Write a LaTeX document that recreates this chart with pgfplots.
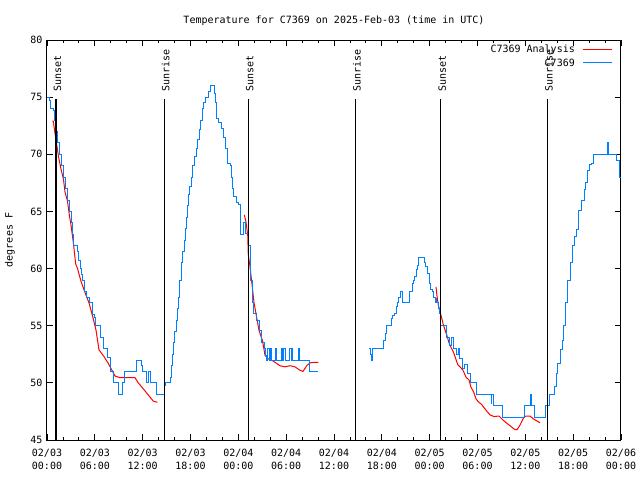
\documentclass[border=0pt]{standalone}
\usepackage{fontspec}
\setmainfont{DejaVu Sans Mono}
\usepackage{pgfplots}
\pgfplotsset{compat=1.18}
\definecolor{obsblue}{RGB}{0,128,255}
\definecolor{anared}{RGB}{255,0,0}

\pgfplotstableread{
h T
0.66 72.9
0.79 72.9
1.13 71.2
1.32 70.4
1.44 69.8
1.76 68.7
2.07 67.8
2.26 66.7
2.57 65.9
2.82 64.6
3.01 63.8
3.30 62.3
3.60 60.4
3.83 60.0
4.26 58.9
4.77 57.9
5.27 57.0
5.77 55.7
6.15 54.6
6.52 52.9
7.15 52.3
7.69 51.7
8.53 50.6
9.16 50.45
11.04 50.45
11.45 50.0
12.29 49.3
13.33 48.4
13.84 48.3
nan nan
24.75 64.7
24.96 64.1
25.18 62.9
25.25 61.2
25.46 60.2
25.72 58.6
25.97 57.0
26.31 55.7
26.59 54.6
27.03 53.7
27.35 52.4
27.76 52.1
28.39 51.9
29.23 51.5
29.86 51.4
30.48 51.5
31.11 51.4
31.74 51.1
32.11 51.0
32.58 51.5
32.99 51.75
33.62 51.8
34.03 51.8
nan nan
48.80 58.4
48.92 57.6
49.09 56.8
49.42 55.9
49.71 55.1
50.14 54.2
50.43 53.5
50.68 53.1
50.97 52.7
51.18 52.3
51.52 51.6
51.81 51.4
52.18 51.1
52.56 50.5
52.94 50.25
53.19 49.6
53.52 49.2
53.81 48.6
54.10 48.35
54.53 48.1
54.85 47.8
55.19 47.5
55.57 47.2
56.07 47.05
56.70 47.1
57.20 46.75
57.70 46.45
58.08 46.25
58.71 45.9
58.96 45.9
59.33 46.3
59.83 47.0
60.09 47.1
60.59 47.1
61.00 46.85
61.63 46.6
61.84 46.5
}\analysis

\pgfplotstableread{
h T
0 75
0.3 74.7
0.45 74
0.8 73.8
0.95 73
1.1 72
1.3 71
1.55 70
1.8 69
2.1 68
2.35 67
2.6 66
2.8 65
3.05 64
3.2 63
3.3 62
3.8 61.5
4.0 60.7
4.2 60
4.35 59.5
4.5 59
4.75 58
5.0 57.5
5.3 57
5.7 56
5.9 55.7
6.1 55
6.65 54
7.06 53
7.53 52.2
7.99 51
8.32 50
8.94 49
9.45 50
9.75 51
11.25 52
11.88 51.5
12.04 51
12.5 50
12.71 51
12.92 50
13.76 49
14.68 49.8
14.9 50
15.43 50.5
15.6 51.5
15.75 52.5
15.9 53.5
16.05 54.5
16.2 55.5
16.35 56.5
16.5 57.5
16.65 59
16.85 60.5
17.05 61.5
17.25 62.5
17.4 63.5
17.5 64.5
17.6 65.5
17.72 66.5
17.9 67.2
18.1 68
18.3 69
18.5 69.8
18.7 70.5
18.9 71.3
19.1 72.2
19.3 73
19.45 74
19.65 74.5
19.9 75
20.2 75.5
20.45 76
20.95 75.3
21.16 74.5
21.3 73.1
21.55 72.8
21.85 72.3
22.15 71.5
22.4 70.5
22.6 69.2
23.0 69
23.15 68
23.3 67
23.4 66.3
23.71 65.8
24.0 65.6
24.21 63
24.71 64
24.96 63.1
25.25 62
25.55 59
25.75 58
25.8 57
25.96 56.1
26.34 55.5
26.63 54.6
26.93 53.5
27.22 53
27.43 52.4
27.56 52
27.7 53
27.9 52
28.05 53
28.15 52
28.6 53
28.85 52
29.45 53
29.6 52
29.7 53
29.9 52
30.45 53
30.65 52
30.75 53
30.85 52
31.55 53
31.7 52
32.98 51
34.0 51
nan nan
40.43 53
40.58 52.5
40.68 52
40.81 53
42.19 53.75
42.49 54.3
42.61 55
43.24 55.6
43.36 55.9
43.57 56.1
43.78 56.7
43.94 57
44.15 57.5
44.37 58
44.59 57
45.41 58
45.82 58.7
45.95 59
46.16 59.3
46.29 59.9
46.45 60.3
46.66 61
47.29 60.5
47.50 60.2
47.76 59.6
47.92 58.7
48.13 58.2
48.33 58
48.46 57.5
48.67 57
48.76 57.4
48.88 57
49.09 56.5
49.21 56.1
49.39 55
50.05 54
50.55 53.3
50.77 54
50.97 53
51.39 52.5
51.56 53
51.72 52.1
52.15 51.3
52.43 51.6
52.72 50.8
53.06 50
53.90 49
55.70 48.2
55.78 49
55.98 48
57.11 47
59.87 48
60.65 49
60.80 48
61.21 47
62.47 48
63.01 49
63.60 49.7
63.85 50.8
64.06 51.7
64.35 52.9
64.64 53.75
64.85 55
65.10 57
65.35 59
65.61 60.5
65.86 62
66.11 62.8
66.45 63.4
66.73 65.1
67.07 66
67.36 66.9
67.61 67.5
67.83 68.6
68.03 69.1
68.33 69.2
68.53 70
70.28 71
70.41 70
71.38 69.5
71.79 68
72.0 68
}\observed

\begin{document}
\fontsize{10}{12.7}\selectfont
\begin{tikzpicture}
\begin{axis}[
  width=574pt, height=400pt, scale only axis,
  xmin=0, xmax=72, ymin=45, ymax=80,
  xtick={0,6,...,72},
  xticklabels={{02/03\\00:00},{02/03\\06:00},{02/03\\12:00},{02/03\\18:00},{02/04\\00:00},{02/04\\06:00},{02/04\\12:00},{02/04\\18:00},{02/05\\00:00},{02/05\\06:00},{02/05\\12:00},{02/05\\18:00},{02/06\\00:00}},
  xticklabel style={align=center, font=\fontsize{10}{12.7}\selectfont, yshift=-6pt},
  minor x tick num=2,
  ytick={45,50,...,80},
  yticklabel style={xshift=-1pt},
  /pgf/number format/assume math mode=true,
  tick align=inside,
  major tick length=6pt, minor tick length=3pt,
  every tick/.style={black, line width=0.8pt},
  axis line style={line width=1pt},
  title={Temperature for C7369 on 2025-Feb-03 (time in UTC)},
  title style={at={(axis description cs:0.5,1)}, anchor=center, yshift=13pt},
  ylabel={degrees F},
  ylabel style={at={(axis description cs:-0.0645,0.5)}, anchor=center},
  unbounded coords=jump,
]
\addplot[anared, line width=1pt] table[x=h, y=T] {\analysis};
\addplot[obsblue, line width=1pt, const plot] table[x=h, y=T] {\observed};

\foreach \t/\lab in {1.13/Sunset, 14.71/Sunrise, 25.25/Sunset, 38.67/Sunrise, 49.39/Sunset, 62.76/Sunrise} {
  \edef\tmp{\noexpand\draw[black, line width=1.2pt] (axis cs:\t,74.83) -- (axis cs:\t,45);
    \noexpand\node[rotate=90, anchor=west, inner sep=0pt] at ([xshift=1.5pt]axis cs:\t,75.45) {\lab};}
  \tmp
}
% legend (text right-aligned, line sample to the right)
\node[anchor=east, inner sep=0pt] at (rel axis cs:0.9199,0.975) {C7369 Analysis};
\draw[anared, line width=1pt] (rel axis cs:0.9338,0.975) -- (rel axis cs:0.9843,0.975);
\node[anchor=east, inner sep=0pt] at (rel axis cs:0.9199,0.9425) {C7369};
\draw[obsblue, line width=1pt] (rel axis cs:0.9338,0.9425) -- (rel axis cs:0.9843,0.9425);
\end{axis}
\pgfresetboundingbox
\path[use as bounding box] (-47pt,-40pt) rectangle (593pt,440pt);
\end{tikzpicture}
\end{document}
